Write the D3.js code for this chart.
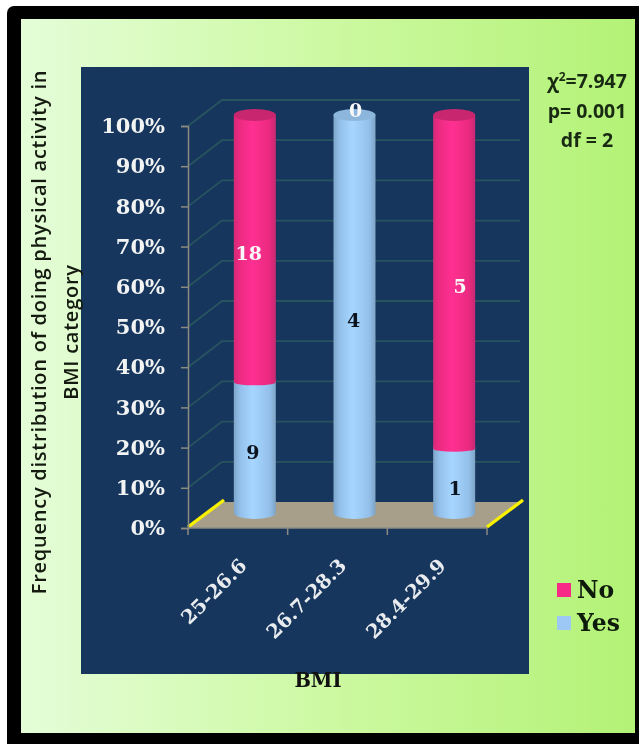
<!DOCTYPE html>
<html><head><meta charset="utf-8">
<script src="https://cdn.jsdelivr.net/npm/d3@7/dist/d3.min.js"></script>
<style>html,body{margin:0;padding:0;background:#fff;overflow:hidden}svg{display:block;filter:blur(.55px)}</style>
</head><body><svg id="c" width="639" height="744"></svg>
<script>
const categories = ["25-26.6","26.7-28.3","28.4-29.9"];
const yesCounts = [9,4,1];
const noCounts = [18,0,5];
const seriesNames = ["No","Yes"];
const percentTicks = [0,10,20,30,40,50,60,70,80,90,100];
const statLines = ["=7.947","p= 0.001","df = 2"];
const yTitleLines = ["Frequency distribution of doing physical activity in","BMI category"];
const xTitle = "BMI";

const svg = d3.select("#c");
const defs = svg.append("defs");
const serif = "'DejaVu Serif',serif", sans = "'Open Sans',sans-serif";
function grad(id, stops){
  const g = defs.append("linearGradient").attr("id",id);
  stops.forEach(s=>g.append("stop").attr("offset",s[0]).attr("stop-color",s[1]));
}
grad("bg",[[0,"#e4fdd8"],[.5,"#cdf9a2"],[1,"#b3f276"]]);
grad("pink",[[0,"#d42a78"],[.12,"#ea2a80"],[.45,"#ff3092"],[.85,"#ea2a80"],[1,"#c92872"]]);
grad("blue",[[0,"#7fa6cc"],[.15,"#93c0ea"],[.45,"#a6d6ff"],[.85,"#93c0ea"],[1,"#7ea3c6"]]);

svg.append("rect").attr("x",7).attr("y",6).attr("width",650).attr("height",760).attr("rx",7).attr("fill","#000");
svg.append("rect").attr("x",21).attr("y",19).attr("width",614).attr("height",714).attr("fill","url(#bg)");
svg.append("rect").attr("x",81).attr("y",67).attr("width",448).attr("height",607).attr("fill","#17365d");

const depthX = 34, depthY = 26;
const x = d3.scaleBand().domain(categories).range([188,487]);
const y = d3.scaleLinear().domain([0,100]).range([528,126]);
const yBar = d3.scaleLinear().domain([0,100]).range([513,115]);

// Floor
const fl = svg.append("g");
fl.append("polygon").attr("fill","#a89f8a").attr("points",[
  [x.range()[0],y(0)],[x.range()[1],y(0)],[x.range()[1]+depthX+2,y(0)-depthY],[x.range()[0]+depthX,y(0)-depthY]
].join(" "));

// Gridlines: side wall diagonal then back wall
svg.append("g").selectAll("polyline").data(percentTicks.filter(d=>d>0)).join("polyline")
  .attr("fill","none").attr("stroke","#27545f").attr("stroke-width",1.8)
  .attr("points",d=>[[x.range()[0],y(d)],[x.range()[0]+depthX,y(d)-depthY],[x.range()[1]+depthX-1,y(d)-depthY]].join(" "));

// Yellow floor edges
svg.append("g").selectAll("line").data(x.range()).join("line")
  .attr("x1",d=>d).attr("y1",y(0)-1).attr("x2",d=>d+depthX+2).attr("y2",y(0)-depthY-2)
  .attr("stroke","#f7f000").attr("stroke-width",3.4);

// Axes
const yAxis = svg.append("g").attr("transform",`translate(${x.range()[0]},0)`)
  .call(d3.axisLeft(y).tickValues(percentTicks).tickSize(7).tickPadding(16).tickFormat(d=>d+"%"));
yAxis.selectAll("path,line").attr("stroke","#8b8b82").attr("stroke-width",1.5);
yAxis.selectAll("text").attr("fill","#f2f4f4").attr("font-family",serif).attr("font-weight","bold").attr("font-size",21);

const edges = d3.scaleLinear().domain([0,categories.length]).range(x.range());
svg.append("g").selectAll("line").data(d3.range(categories.length+1)).join("line")
  .attr("x1",d=>edges(d)).attr("x2",d=>edges(d)).attr("y1",y(0)).attr("y2",y(0)+7)
  .attr("stroke","#8b8b82").attr("stroke-width",1.5);
svg.append("line").attr("x1",x.range()[0]).attr("x2",x.range()[1]).attr("y1",y(0)).attr("y2",y(0))
  .attr("stroke","#8b8b82").attr("stroke-width",1.5);

const xAxis = svg.append("g").attr("transform",`translate(0,${y(0)})`)
  .call(d3.axisBottom(x).tickSize(0));
xAxis.select("path").remove();
xAxis.selectAll("text").attr("fill","#e8ecef").attr("font-family",serif).attr("font-weight","bold").attr("font-size",19.5)
  .attr("text-anchor","end").attr("dy",0).attr("y",0)
  .attr("transform","translate(10,39) rotate(-45)");

// Cylinders
const rx = 21;
function segPath(cx,y1,y0,ry0){
  return `M${cx-rx},${y1}L${cx+rx},${y1}L${cx+rx},${y0}A${rx},${ry0} 0 0 1 ${cx-rx},${y0}Z`;
}
const bars = svg.append("g");
categories.forEach((c,i)=>{
  const cx = x(c)+x.bandwidth()/2+depthX/2;
  const total = yesCounts[i]+noCounts[i];
  const yesPct = yesCounts[i]/total*100;
  bars.append("path").attr("d",segPath(cx,yBar(yesPct),yBar(0),6)).attr("fill","url(#blue)");
  let topFill = "#8db6dc";
  if(noCounts[i]>0){
    bars.append("path").attr("d",segPath(cx,yBar(100),yBar(yesPct)+2,3)).attr("fill","url(#pink)");
    topFill = "#c8276f";
  }
  bars.append("ellipse").attr("cx",cx).attr("cy",yBar(100)).attr("rx",rx).attr("ry",6).attr("fill",topFill);

  const lab = (v,mid,col,dx,dy)=>bars.append("text").text(v).attr("x",cx+dx).attr("y",yBar(mid)+dy)
    .attr("dy","0.36em").attr("text-anchor","middle").attr("fill",col)
    .attr("font-family",serif).attr("font-weight","bold").attr("font-size",19);
  const yesNudge = [[-2,5],[-1,6],[1,8]][i], noNudge = [[-6,5],[1,-5],[6,5]][i];
  lab(yesCounts[i],yesPct/2,"#0c1420",yesNudge[0],yesNudge[1]);
  lab(noCounts[i],yesPct+(100-yesPct)/2,"#f8f8f8",noNudge[0],noNudge[1]);
});

// Titles
const t = svg.append("g").attr("font-family",sans).attr("font-weight",600).attr("fill","#141a10").attr("font-size",20).attr("letter-spacing",0.75);
yTitleLines.forEach((s,i)=>t.append("text").text(s).attr("text-anchor","middle")
  .attr("transform",`translate(${46+i*32},332) rotate(-90)`));
svg.append("text").text(xTitle).attr("x",318).attr("y",687).attr("text-anchor","middle")
  .attr("font-family",serif).attr("font-weight","bold").attr("font-size",19.5).attr("fill","#111");

// Stats
const st = svg.append("g").attr("font-family",sans).attr("font-weight",700).attr("font-size",19.5).attr("fill","#182a12").attr("text-anchor","middle");
const st0 = st.append("text").attr("x",587).attr("y",88);
st0.append("tspan").text("χ");
st0.append("tspan").text("2").attr("font-size",12).attr("dy",-7);
st0.append("tspan").text(statLines[0]).attr("dy",7);
st.append("text").text(statLines[1]).attr("x",587).attr("y",118);
st.append("text").text(statLines[2]).attr("x",587).attr("y",147);

// Legend
const legendY = d3.scalePoint().domain(seriesNames).range([590,623]);
const legCol = {No:"#f72a88",Yes:"#9dc8f5"};
const lg = svg.append("g").selectAll("g").data(seriesNames).join("g").attr("transform",d=>`translate(557,${legendY(d)})`);
lg.append("rect").attr("x",0).attr("y",-7).attr("width",14).attr("height",14).attr("fill",d=>legCol[d]);
lg.append("text").text(d=>d).attr("x",20).attr("y",8).attr("font-family",serif).attr("font-weight","bold").attr("font-size",23.5).attr("fill","#0e1a0a");
</script></body></html>
